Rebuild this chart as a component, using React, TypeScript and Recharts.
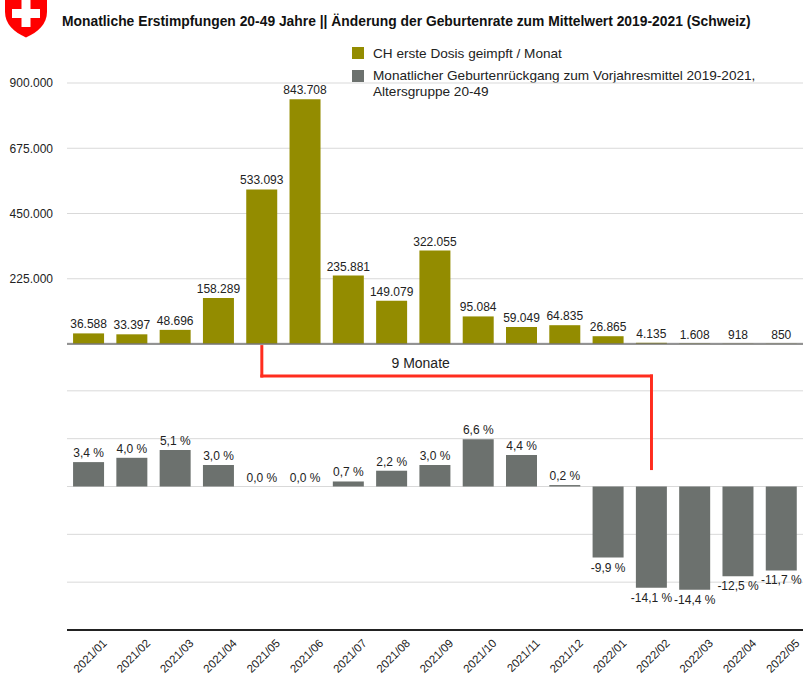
import { BarChart, ComposedChart, Bar, Scatter, XAxis, YAxis, CartesianGrid, LabelList, ReferenceLine } from 'recharts';

const months = [
  '2021/01', '2021/02', '2021/03', '2021/04', '2021/05', '2021/06', '2021/07', '2021/08', '2021/09',
  '2021/10', '2021/11', '2021/12', '2022/01', '2022/02', '2022/03', '2022/04', '2022/05',
];
const firstDoses = [36588, 33397, 48696, 158289, 533093, 843708, 235881, 149079, 322055, 95084, 59049, 64835, 26865, 4135, 1608, 918, 850];
const birthChange = [3.4, 4.0, 5.1, 3.0, 0.0, 0.0, 0.7, 2.2, 3.0, 6.6, 4.4, 0.2, -9.9, -14.1, -14.4, -12.5, -11.7];
const doseTicks = [0, 225000, 450000, 675000, 900000];
const changeTicks = [-20, -40 / 3, -20 / 3, 0, 20 / 3, 40 / 3];

// "9 Monate" bracket: from peak vaccination month to start of birth drop
const bracketFrom = '2021/05';
const bracketTo = '2022/02';
const bracketLabel = '9 Monate';

const OLIVE = '#938C00';
const GREY = '#6C716E';
const RED = '#FF2D1E';
const FONT = '"Liberation Sans", Arial, sans-serif';

const data = months.map((month, i) => ({ month, doses: firstDoses[i], change: birthChange[i] }));

const fmtThousands = (v: number) => String(v).replace(/\B(?=(\d{3})+(?!\d))/g, '.');
const fmtPct = (v: number) => v.toFixed(1).replace('.', ',') + ' %';

// value label drawn at the bar end (above for >= 0, below for < 0)
const ChangeLabel = (props: any) => {
  const { cx, cy, payload } = props;
  const v = payload.change;
  const ty = v < 0 ? cy + 14 : cy - 5;
  return (
    <text x={cx} y={ty} textAnchor="middle" fontSize={12} fill="#222">
      {fmtPct(v)}
    </text>
  );
};

const MonthTick = (props: any) => {
  const { x, y, payload } = props;
  const ax = x + 19;
  const ay = y + 6;
  return (
    <text x={ax} y={ay} transform={`rotate(-45 ${ax} ${ay})`} textAnchor="end" fontSize={11.5} fill="#222">
      {payload.value}
    </text>
  );
};

const Shield = () => (
  <svg width={52} height={40} style={{ position: 'absolute', left: 0, top: 0 }}>
    <path d="M5,0 H47 V12 C47,24 38,32 26,37.5 C14,32 5,24 5,12 Z" fill="#FF0000" />
    <rect x={12} y={9} width={28} height={9} fill="#fff" />
    <rect x={21.5} y={0} width={9} height={27} fill="#fff" />
  </svg>
);

export default function App() {
  return (
    <div style={{ position: 'absolute', left: 0, top: 0, width: 803, height: 676, background: '#fff', fontFamily: FONT, overflow: 'hidden' }}>
      <Shield />
      <div style={{ position: 'absolute', left: 62, top: 13, fontSize: 13.85, fontWeight: 'bold', color: '#111', whiteSpace: 'nowrap' }}>
        Monatliche Erstimpfungen 20-49 Jahre || Änderung der Geburtenrate zum Mittelwert 2019-2021 (Schweiz)
      </div>

      <div style={{ position: 'absolute', left: 352, top: 46, fontSize: 13.6, color: '#222', lineHeight: '16px' }}>
        <div style={{ display: 'flex', alignItems: 'flex-start' }}>
          <span style={{ width: 12, height: 12, background: OLIVE, marginTop: 1, marginRight: 9, flex: 'none' }} />
          <span>CH erste Dosis geimpft / Monat</span>
        </div>
        <div style={{ display: 'flex', alignItems: 'flex-start', marginTop: 6 }}>
          <span style={{ width: 12, height: 12, background: GREY, marginTop: 2, marginRight: 9, flex: 'none' }} />
          <span>
            Monatlicher Geburtenrückgang zum Vorjahresmittel 2019-2021,
            <br />
            Altersgruppe 20-49
          </span>
        </div>
      </div>

      <div style={{ position: 'absolute', left: 0, top: 300 }}>
        <ComposedChart width={803} height={376} data={data} margin={{ top: 43, right: 0, left: 0, bottom: 0 }} barCategoryGap="14%">
          <CartesianGrid vertical={false} stroke="#D9D9D9" />
          <XAxis
            dataKey="month"
            height={46}
            interval={0}
            tickLine={false}
            axisLine={{ stroke: '#222', strokeWidth: 2 }}
            tick={<MonthTick />}
          />
          <YAxis width={67} domain={[-20, 20]} ticks={changeTicks} tick={() => <g />} axisLine={false} tickLine={false} />
          <Bar dataKey="change" fill={GREY} isAnimationActive={false} />
          <Scatter dataKey="change" shape={<ChangeLabel />} isAnimationActive={false} />
          <ReferenceLine
            segment={[{ x: bracketFrom, y: 19.5 }, { x: bracketFrom, y: 15.4 }]}
            stroke={RED}
            strokeWidth={3}
            strokeLinecap="square"
          />
          <ReferenceLine
            segment={[{ x: bracketFrom, y: 15.4 }, { x: bracketTo, y: 15.4 }]}
            stroke={RED}
            strokeWidth={3}
            strokeLinecap="square"
            label={{
              content: (p: any) => {
                const vb = p.viewBox;
                return (
                  <text x={vb.x + vb.width / 2 - 36} y={vb.y - 8} textAnchor="middle" fontSize={14} fill="#222">
                    {bracketLabel}
                  </text>
                );
              },
            }}
          />
          <ReferenceLine
            segment={[{ x: bracketTo, y: 15.4 }, { x: bracketTo, y: 2.5 }]}
            stroke={RED}
            strokeWidth={3}
            strokeLinecap="square"
          />
        </ComposedChart>
      </div>

      <div style={{ position: 'absolute', left: 0, top: 0 }}>
        <BarChart width={803} height={345} data={data} margin={{ top: 83, right: 0, left: 0, bottom: 0 }} barCategoryGap="14%">
          <CartesianGrid vertical={false} stroke="#D9D9D9" />
          <XAxis dataKey="month" height={1} tick={false} tickLine={false} axisLine={{ stroke: '#777', strokeWidth: 1.5 }} />
          <YAxis
            width={67}
            domain={[0, 900000]}
            ticks={doseTicks}
            tickFormatter={fmtThousands}
            axisLine={false}
            tickLine={false}
            tickSize={6}
            tickMargin={8}
            tick={{ fontSize: 12, fill: '#222' }}
          />
          <Bar dataKey="doses" fill={OLIVE} isAnimationActive={false}>
            <LabelList dataKey="doses" position="top" offset={5} fontSize={12} fill="#222" formatter={(v: any) => fmtThousands(v)} />
          </Bar>
        </BarChart>
      </div>
    </div>
  );
}
